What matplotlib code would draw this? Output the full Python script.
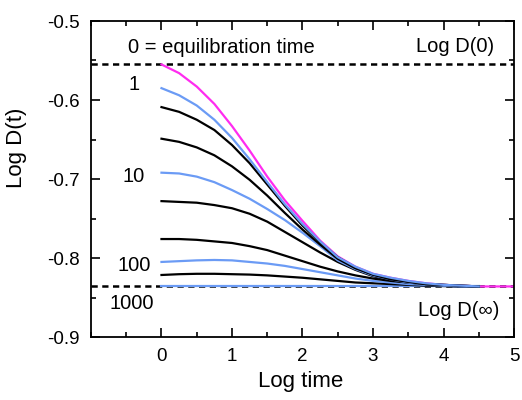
import numpy as np
import matplotlib
matplotlib.use("Agg")
import matplotlib.pyplot as plt

plt.rcParams['font.family'] = ['Liberation Sans', 'DejaVu Sans']
plt.rcParams['axes.unicode_minus'] = False

# log time grid where the curves were read
log_t = [0, 0.25, 0.5, 0.75, 1.0, 1.25, 1.5, 1.75, 2.0, 2.25,
         2.5, 2.75, 3.0, 3.25, 3.5, 3.75, 4.0, 4.25, 4.5]
log_t_eq = log_t + [4.75, 5.0]

# equilibration time 0 (magenta)
d_eq0 = [-0.555, -0.566, -0.583, -0.605, -0.633, -0.664, -0.697, -0.727, -0.753, -0.778,
         -0.798, -0.811, -0.820, -0.825, -0.829, -0.832, -0.834, -0.835, -0.836, -0.836, -0.836]

# aged curves, top to bottom
d_1 = [-0.585, -0.594, -0.607, -0.625, -0.648, -0.675, -0.704, -0.732, -0.757, -0.779,
       -0.799, -0.811, -0.820, -0.825, -0.829, -0.832, -0.834, -0.835, -0.836]
d_2 = [-0.609, -0.615, -0.625, -0.638, -0.657, -0.680, -0.707, -0.734, -0.759, -0.780,
       -0.799, -0.812, -0.821, -0.826, -0.830, -0.833, -0.834, -0.835, -0.836]
d_5 = [-0.649, -0.653, -0.660, -0.670, -0.684, -0.701, -0.721, -0.743, -0.764, -0.783,
       -0.801, -0.813, -0.821, -0.827, -0.830, -0.833, -0.834, -0.835, -0.836]
d_10 = [-0.692, -0.693, -0.697, -0.704, -0.714, -0.725, -0.738, -0.752, -0.768, -0.785,
        -0.803, -0.814, -0.822, -0.827, -0.831, -0.833, -0.835, -0.836, -0.836]
d_20 = [-0.728, -0.729, -0.730, -0.733, -0.737, -0.744, -0.754, -0.767, -0.780, -0.793,
        -0.805, -0.815, -0.823, -0.828, -0.831, -0.833, -0.835, -0.836, -0.836]
d_50 = [-0.776, -0.776, -0.777, -0.779, -0.781, -0.785, -0.790, -0.797, -0.804, -0.811,
        -0.817, -0.822, -0.826, -0.829, -0.831, -0.833, -0.835, -0.836, -0.836]
d_100 = [-0.805, -0.804, -0.803, -0.8025, -0.803, -0.805, -0.807, -0.810, -0.814, -0.818,
         -0.822, -0.826, -0.829, -0.831, -0.833, -0.834, -0.835, -0.836, -0.836]
d_300 = [-0.8215, -0.8205, -0.820, -0.820, -0.8205, -0.821, -0.822, -0.8235, -0.825, -0.827,
         -0.829, -0.831, -0.832, -0.833, -0.834, -0.835, -0.8355, -0.836, -0.836]
d_1000 = [-0.836] * 19

log_d0 = -0.555
log_dinf = -0.836

blue = "#6b9bf5"
magenta = "#ff2cf0"
curves = [(d_1, blue), (d_2, "k"), (d_5, "k"), (d_10, blue), (d_20, "k"),
          (d_50, "k"), (d_100, blue), (d_300, "k"), (d_1000, blue)]

fig = plt.figure(figsize=(5.22, 4.0), dpi=100)
ax = fig.add_axes([0.1743, 0.1575, 0.8104, 0.79])

ax.axhline(log_d0, color="k", lw=1.8, ls=(0, (2.5, 1.8)), zorder=1)
ax.axhline(log_dinf, color="k", lw=1.8, ls=(0, (2.5, 1.8)), zorder=1)

for vals, col in curves[::-1]:
    ax.plot(log_t, vals, color=col, lw=1.6, zorder=2)
ax.plot(log_t_eq, d_eq0, color=magenta, lw=1.6, zorder=1.5)

ax.set_xlim(-1, 5)
ax.set_ylim(-0.9, -0.5)
ax.set_xticks([0, 1, 2, 3, 4, 5])
ax.set_xticks(np.arange(-1, 5.01, 0.5), minor=True)
ax.set_yticks([-0.9, -0.8, -0.7, -0.6, -0.5])
ax.set_yticklabels(["-0.9", "-0.8", "-0.7", "-0.6", "-0.5"])
ax.set_yticks(np.arange(-0.9, -0.499, 0.05), minor=True)
ax.tick_params(which="both", direction="in", top=True, right=True, width=1.2,
               labelsize=13.5)
ax.tick_params(which="major", length=6.5, pad=8)
ax.tick_params(which="minor", length=3.6)
for sp in ax.spines.values():
    sp.set_linewidth(1.3)

ax.set_xlabel("Log time", fontsize=16)
ax.set_ylabel("Log D(t)", fontsize=16)
ax.xaxis.set_label_coords(0.496, -0.142)
ax.yaxis.set_label_coords(-0.177, 0.6)
ax.xaxis.label.set_va("center")
ax.yaxis.label.set_va("center")

fs = 14.5
ax.text(-0.48, -0.533, "0 = equilibration time", fontsize=fs, va="center", ha="left")
ax.text(4.72, -0.532, "Log D(0)", fontsize=fs, va="center", ha="right")
ax.text(-0.39, -0.581, "1", fontsize=fs, va="center", ha="center")
ax.text(-0.39, -0.697, "10", fontsize=fs, va="center", ha="center")
ax.text(-0.39, -0.809, "100", fontsize=fs, va="center", ha="center")
ax.text(-0.42, -0.858, "1000", fontsize=fs, va="center", ha="center")
ax.text(4.79, -0.867, "Log D(\u221e)", fontsize=fs, va="center", ha="right")

fig.savefig("out.png", dpi=100)
